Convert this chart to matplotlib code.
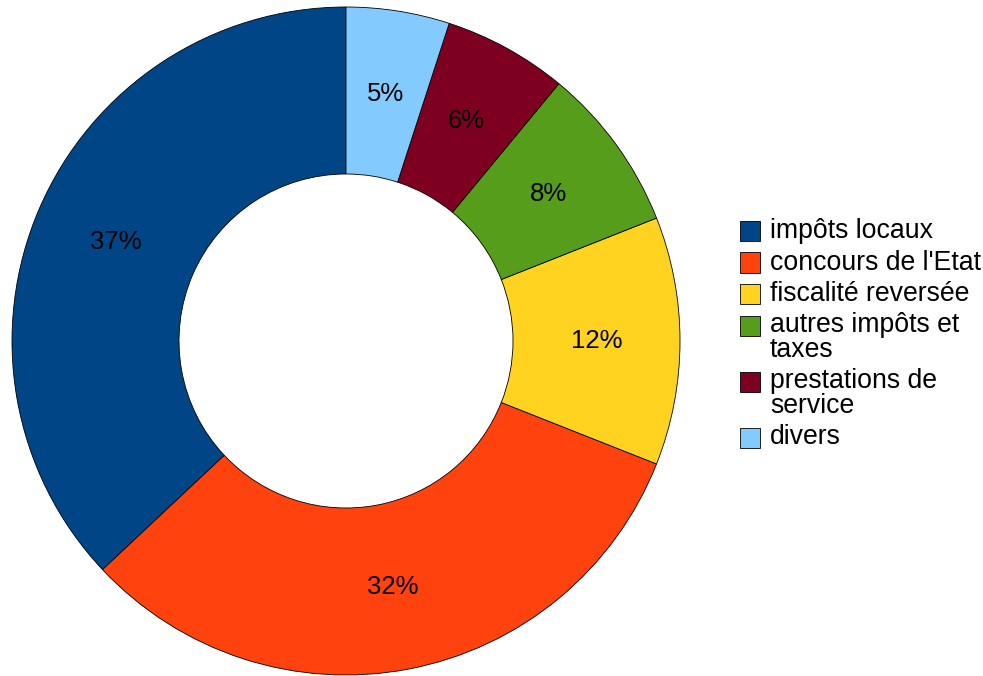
import matplotlib
matplotlib.use("Agg")
import matplotlib.pyplot as plt
from matplotlib.patches import Rectangle

plt.rcParams['font.family'] = ['Liberation Sans', 'DejaVu Sans']

# Data
categories = ["impôts locaux", "concours de l'Etat", "fiscalité reversée",
              "autres impôts et\ntaxes", "prestations de\nservice", "divers"]
shares = [37, 32, 12, 8, 6, 5]
colors = ["#004586", "#ff420e", "#ffd320", "#579d1c", "#7e0021", "#83caff"]

W, H = 983, 676
fig = plt.figure(figsize=(W / 100, H / 100), dpi=100)

# donut: centre (346, 341) px, outer radius 334 px
cx, cy, r = 346, 341, 334
ax = fig.add_axes([(cx - r) / W, (H - cy - r) / H, 2 * r / W, 2 * r / H])

wedges, texts, autotexts = ax.pie(
    shares, colors=colors, startangle=90, counterclock=True,
    autopct='%d%%', pctdistance=0.75, radius=1,
    wedgeprops=dict(width=0.5, edgecolor='black', linewidth=0.6),
    textprops=dict(fontsize=18.5, color='black'))
ax.set_xlim(-1, 1)
ax.set_ylim(-1, 1)
ax.set_aspect('equal')

# legend drawn by hand so the swatch sits on the first line of wrapped labels
def fx(px):
    return px / W

def fy(py):
    return 1 - py / H

baseline = 238
line_step = 24.5
entry_gap = 31.5
for wedge, label in zip(wedges, categories):
    fig.patches.append(Rectangle((fx(740), fy(baseline + 3)), 20 / W, 20 / H,
                                 transform=fig.transFigure,
                                 facecolor=wedge.get_facecolor(),
                                 edgecolor='black', linewidth=0.6))
    lines = label.split('\n')
    for i, line in enumerate(lines):
        fig.text(fx(770), fy(baseline + i * line_step), line,
                 fontsize=19.2, ha='left', va='baseline')
    baseline += (len(lines) - 1) * line_step + entry_gap

fig.savefig("out.png", dpi=100)
